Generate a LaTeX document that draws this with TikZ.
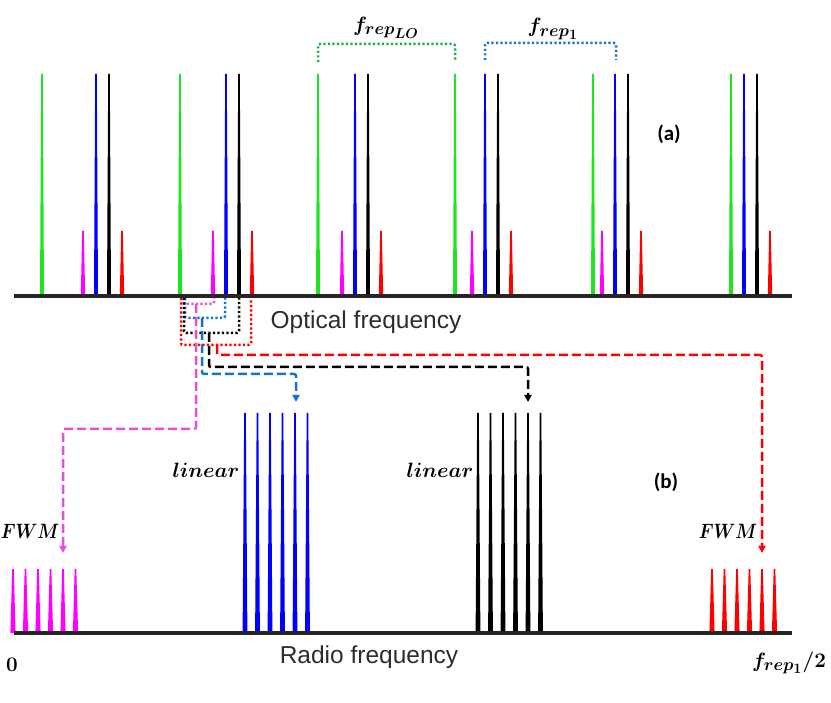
\documentclass[tikz,border=0pt]{standalone}
\usepackage{amsmath}
\usepackage{bm}
\usepackage{graphicx}
\usepackage{fontspec}
\setsansfont{Liberation Sans}
\newfontfamily\calib{Carlito}
\usetikzlibrary{arrows.meta}
\DeclareMathSizes{21}{21}{17}{14}
\definecolor{lgreen}{RGB}{30,230,30}
\definecolor{pmag}{RGB}{255,0,255}
\definecolor{pred}{RGB}{255,0,0}
\definecolor{pblue}{RGB}{0,0,255}
\definecolor{oblue}{RGB}{20,115,200}
\definecolor{ogreen}{RGB}{20,176,80}
\definecolor{pinkc}{RGB}{230,80,215}
\definecolor{axisc}{RGB}{38,38,38}
\definecolor{txtgray}{RGB}{45,45,45}
\newcommand\speak[5]{\fill[#5] (#1-#4,#3) -- (#1-0.8,#2) -- (#1+0.8,#2) -- (#1+#4,#3) -- cycle;}
\begin{document}
\begin{tikzpicture}[x=1pt,y=-1pt,
  axisline/.style={draw=axisc,line width=4pt},
  dotline/.style={line width=2.5pt,dash pattern=on 2.2pt off 2.3pt,rounded corners=2pt},
  dashline/.style={line width=2.5pt,dash pattern=on 9pt off 4pt,rounded corners=2pt,-{Triangle[length=7pt,width=7pt]}},
  mathlbl/.style={font=\fontsize{20}{24}\selectfont},
  flbl/.style={font=\fontsize{21}{25}\selectfont},
  axlbl/.style={font=\sffamily\fontsize{24.5}{28}\selectfont,text=txtgray},
  panlbl/.style={font=\calib\bfseries\fontsize{21}{25}\selectfont}]
\useasboundingbox (0,0) rectangle (831,703);
\fill[white] (0,0) rectangle (831,703);

% ---- top spectrum ----
\foreach \b in {96,226,355,485,615,744}{
  \speak{\b-13}{231}{296}{2.2}{pmag}
  \speak{\b+26}{231}{296}{2.2}{pred}
  \speak{\b}{74}{296}{2}{pblue}
  \speak{\b+13}{74}{296}{2}{black}
}
\foreach \g in {42,180,318,455,593,731}{
  \speak{\g}{74}{296}{2}{lgreen}
}
\coordinate (topL) at (14,296);
\coordinate (topR) at (792,296);
\draw[axisline] (topL) -- (topR);

% ---- bottom spectrum ----
\foreach \i in {0,...,5}{
  \speak{13+12.5*\i}{569}{633}{2.6}{pmag}
  \speak{245+12.5*\i}{413}{633}{2.4}{pblue}
  \speak{478+12.5*\i}{413}{633}{2.4}{black}
  \speak{712+12.5*\i}{569}{633}{2.6}{pred}
}
\coordinate (botL) at (14,633);
\coordinate (botR) at (792,633);
\draw[axisline] (botL) -- (botR);

% ---- repetition-rate braces ----
\coordinate (loA) at (318,62);
\coordinate (loB) at (455,62);
\coordinate (r1A) at (485,60);
\coordinate (r1B) at (616,60);
\draw[dotline,draw=ogreen] (loA) -- ++(0,-18) -| (loB);
\draw[dotline,draw=oblue] (r1A) -- ++(0,-17) -| (r1B);
\node[flbl] (flo) at (386,28) {$\bm{f_{rep_{LO}}}$};
\node[flbl] (fr1) at (553,29) {$\bm{f_{rep_{1}}}$};

% ---- beat-note brackets ----
\coordinate (pkA) at (183,298); \coordinate (pkB) at (214,298);
\coordinate (blA) at (185,298); \coordinate (blB) at (225,298);
\coordinate (bkA) at (184,298); \coordinate (bkB) at (239,298);
\coordinate (rdA) at (181,298); \coordinate (rdB) at (251,298);
\draw[dotline,draw=pinkc] (pkA) |- (204,304) -| (pkB);
\draw[dotline,draw=oblue] (blA) |- (210,318) -| (blB);
\draw[dotline,draw=black] (bkA) |- (215,333) -| (bkB);
\draw[dotline,draw=pred] (rdA) |- (220,345) -| (rdB);

% ---- dashed arrows ----
\coordinate (pkS) at (196,304); \coordinate (pkT) at (63,553);
\coordinate (blS) at (202,318); \coordinate (blT) at (296,402);
\coordinate (bkS) at (209,333); \coordinate (bkT) at (528,402);
\coordinate (rdS) at (217,345); \coordinate (rdT) at (762,553);
\draw[dashline,draw=pinkc] (pkS) |- (130,429) -| (pkT);
\draw[dashline,draw=oblue] (blS) |- (250,374) -| (blT);
\draw[dashline,draw=black] (bkS) |- (370,367) -| (bkT);
\draw[dashline,draw=pred] (rdS) |- (500,355) -| (rdT);

% ---- labels ----
\node[axlbl] (opt) at (366,322) {Optical frequency};
\node[axlbl] (rad) at (369,657) {Radio frequency};
\node[panlbl] (pa) at (669,134) {(a)};
\node[panlbl] (pb) at (666,482) {(b)};
\node[mathlbl] (lin1) at (206,470) {$\bm{linear}$};
\node[mathlbl] (lin2) at (440,470) {$\bm{linear}$};
\node[mathlbl] (fwm1) at (30,531) {\scalebox{0.84}[1]{$\bm{FWM}$}};
\node[mathlbl] (fwm2) at (728,531) {\scalebox{0.84}[1]{$\bm{FWM}$}};
\node[font=\fontsize{22}{26}\selectfont] (zero) at (12,665) {$\bm{0}$};
\node[flbl] (half) at (789,663) {$\bm{f_{rep_{1}}/2}$};
\end{tikzpicture}
\end{document}
